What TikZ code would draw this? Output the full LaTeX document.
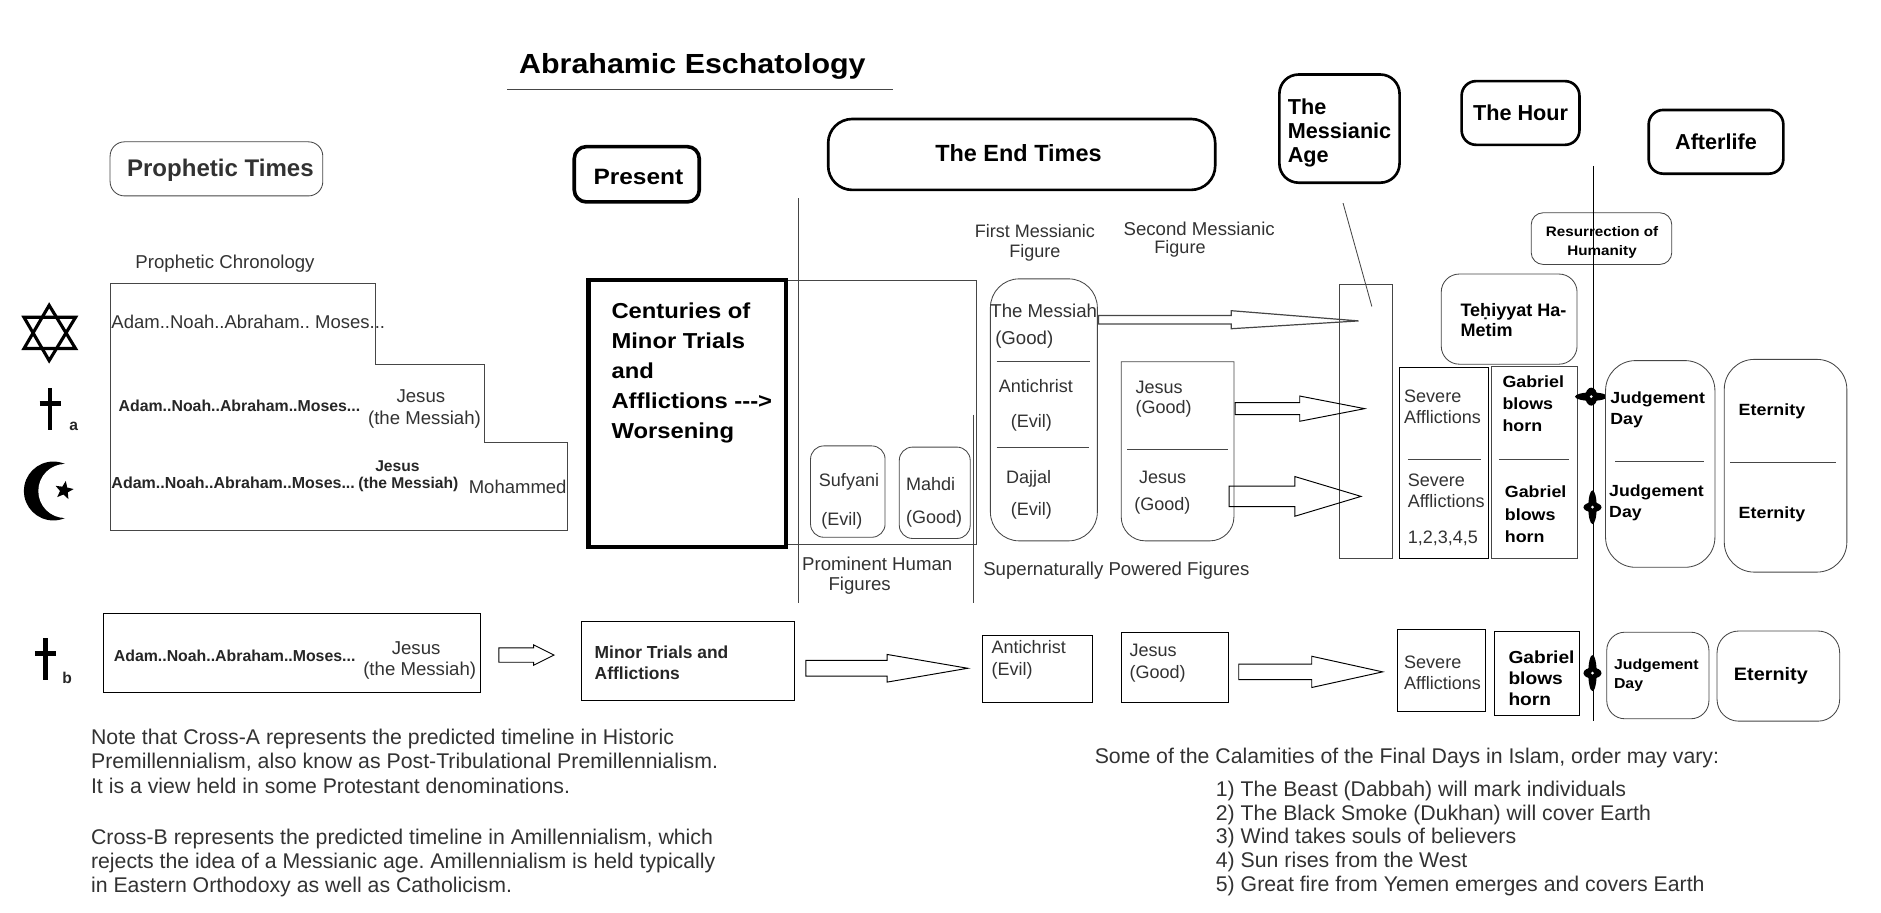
\documentclass[tikz,border=0pt]{standalone}
\usepackage{xcolor}
\usepackage{fontspec}
\setmainfont{Liberation Sans}
\newfontfamily\widefont[FakeStretch=1.1]{Liberation Sans}
\usetikzlibrary{calc,shapes.geometric}
\definecolor{inkgray}{RGB}{50,50,50}
\definecolor{rulegray}{RGB}{70,70,70}
\frenchspacing
\tikzset{
  txt/.style={inner sep=0.75pt,anchor=west,align=left,text=inkgray,font=\fontsize{#1}{#1}\selectfont},
  txtb/.style={inner sep=0.75pt,anchor=west,align=left,text=black!85,font=\fontsize{#1}{#1}\selectfont\bfseries},
  txtw/.style={inner sep=0.75pt,anchor=west,align=left,text=black,font=\fontsize{#1}{#1}\selectfont\widefont\bfseries},
  txtc/.style={txt=#1,anchor=center,align=center},
  softbox/.style={draw=rulegray,line width=0.7pt,rounded corners=#1,fill=white,inner sep=0pt},
  headbox/.style={draw,line width=2.2pt,rounded corners=#1,fill=white,inner sep=0pt},
  plainbox/.style={draw,line width=0.7pt,inner sep=0pt},
  divline/.style={rulegray,line width=0.7pt},
  blockarrow/.style n args={3}{line width=0.8pt,to path={let \p1=(\tikztostart),\p2=(\tikztotarget) in
    (\x1,\y1-#1) -- (\x2-#2,\y1-#1) -- (\x2-#2,\y1-#3) -- (\x2,\y2) -- (\x2-#2,\y1+#3) -- (\x2-#2,\y1+#1) -- (\x1,\y1+#1) -- cycle}},
  spark/.style={ellipse,fill=black,inner sep=0pt},
  sparkdot/.style={circle,fill=white,inner sep=0pt,minimum size=2.5pt}
}
\begin{document}
\begin{tikzpicture}[x=0.9977pt,y=1pt,yscale=-1,xscale=1]
\useasboundingbox (0,0) rectangle (1568.6,759.6);

% Title
\node [txtw=23] (title) at (432,55.5) {Abrahamic Eschatology};
\draw [divline] (423,74) -- (745,74);

% Period headers
\node [softbox=12pt,minimum width=177pt,minimum height=45pt] (prophetic) at (180.5,140.5) {};
\node [txtb=20,text=inkgray] (prophetictxt) at (105,142) {Prophetic Times};
\node [headbox=10pt,line width=3pt,minimum width=104pt,minimum height=46pt] (present) at (531,145) {};
\node [txtw=18.5] (presenttxt) at (494,147) {Present};
\node [headbox=20pt,minimum width=322pt,minimum height=59pt] (endtimes) at (852,128.5) {};
\node [txtb=19.5,text=black] (endtimestxt) at (779,127.5) {The End Times};
\node [headbox=16pt,minimum width=100pt,minimum height=90pt] (age) at (1117,107) {};
\node [txtb=18,text=black,font=\fontsize{18}{20}\selectfont\bfseries] (agetxt) at (1073,111) {The\\Messianic\\Age};
\node [headbox=12pt,minimum width=98pt,minimum height=53pt,font=\fontsize{18}{18}\selectfont\bfseries] (hour) at (1268,94) {The Hour};
\node [headbox=12pt,minimum width=112pt,minimum height=53pt,font=\fontsize{18}{18}\selectfont\bfseries] (afterlife) at (1431,118) {Afterlife};

% Star of David
\draw [line width=2.6pt] (41,254) -- (20,290) -- (63,290) -- cycle;
\draw [line width=2.6pt] (41,300) -- (20,264) -- (63,264) -- cycle;
% Cross a
\draw [line width=3.5pt] (42,323) -- (42,358);
\draw [line width=4pt] (33,336) -- (51,336);
\node [txtb=13] (crossa) at (57,355) {a};
% Crescent
\fill (44.5,408.5) circle (24.5pt);
\fill [white] (54.5,408.5) circle (22.5pt);
\node [star,star points=5,star point ratio=2.3,fill=black,inner sep=0pt,minimum size=16pt,rotate=-10] (crescentstar) at (53.5,408) {};
% Cross b
\draw [line width=3.5pt] (38,531) -- (38,566);
\draw [line width=4.5pt] (29,543.5) -- (47,543.5);
\node [txtb=13] (crossb) at (51,564) {b};

% Prophetic Chronology
\node [txt=15.5] (chronology) at (112,219) {Prophetic Chronology};
\draw [divline] (92,236) -- (313,236) -- (313,303) -- (404,303) -- (404,368) -- (473,368) -- (473,441) -- (92,441) -- cycle;
\node [txt=15.4] (rowjudaism) at (92,268) {Adam..Noah..Abraham.. Moses...};
\node [txtb=13.2] (rowcrossa) at (98,338) {Adam..Noah..Abraham..Moses...};
\node [txtc=15.5] (jesusa) at (351,330) {Jesus};
\node [txtc=15.5] (messiaha) at (354,349) {(the Messiah)};
\node [txtb=13.3] (rowislam) at (92,402) {Adam..Noah..Abraham..Moses...};
\node [txtb=13] (jesusi) at (312,388) {Jesus};
\node [txtb=13] (messiahi) at (298,403) {(the Messiah)};
\node [txt=15.4] (mohammed) at (390,405) {Mohammed};

% Present column
\node [draw,line width=3.5pt,minimum width=164pt,minimum height=222pt,inner sep=0pt] (centuries) at (573,344) {};
\node [txtw=18,font=\fontsize{18}{25}\selectfont\widefont\bfseries] (centuriestxt) at (509,310) {Centuries of\\Minor Trials\\and\\Afflictions ---{>}\\Worsening};

% End Times, human figures
\draw [divline] (657,233) -- (814,233) -- (814,453) -- (657,453);
\draw [divline] (666,165) -- (666,502);
\draw [divline] (812,345) -- (812,502);
\node [softbox=11pt,minimum width=62pt,minimum height=76pt] (sufyanibox) at (707,409) {};
\node [softbox=11pt,minimum width=59pt,minimum height=76pt] (mahdibox) at (779.5,410) {};
\node [txtc=15] (sufyani) at (708,401) {Sufyani};
\node [txtc=15] (sufyanievil) at (702,433) {(Evil)};
\node [txtc=15] (mahdi) at (776,403) {Mahdi};
\node [txtc=15] (mahdigood) at (779,432) {(Good)};
\node [txt=15.5] (prominent) at (668,469.5) {Prominent Human};
\node [txt=15.5] (prominentb) at (690,487) {Figures};

% End Times, supernatural figures
\node [txtc=15] (firstfig) at (863,192) {First Messianic};
\node [txtc=15] (firstfigb) at (863,210) {Figure};
\node [txtc=15.5] (secondfig) at (1000,190) {Second Messianic};
\node [txtc=15] (secondfigb) at (984,207) {Figure};
\node [softbox=24pt,minimum width=89pt,minimum height=218pt] (firstbox) at (870.5,341) {};
\node [txt=15.5] (messiahgood) at (825,259) {The Messiah};
\node [txt=15.5] (messiahgoodb) at (829,283) {(Good)};
\draw [divline] (831,301) -- (909,301);
\node [txt=15] (antichrist) at (832,321) {Antichrist};
\node [txt=15] (antichristb) at (842,352) {(Evil)};
\draw [divline] (831,372) -- (908,372);
\node [txt=15] (dajjal) at (838,398) {Dajjal};
\node [txt=15] (dajjalb) at (842,425) {(Evil)};
\draw [rulegray,line width=0.7pt] (935,301) -- (1029,301) [rounded corners=20pt] -- (1029,450) -- (935,450) [sharp corners] -- cycle;
\node [txt=15] (jesusone) at (946,322) {Jesus};
\node [txt=15] (jesusoneb) at (946,340) {(Good)};
\draw [divline] (940,374) -- (1024,374);
\node [txt=15] (jesustwo) at (949,397) {Jesus};
\node [txt=15] (jesustwob) at (945,421) {(Good)};
\node [txt=15.5] (supernatural) at (819,475) {Supernaturally Powered Figures};

% Messianic Age column
\draw [divline] (1120,169) -- (1144,255);
\node [plainbox,draw=rulegray,minimum width=44pt,minimum height=228pt] (agecolumn) at (1139,351) {};

% Arrows to the column
\coordinate (messiahout) at (916,266);
\coordinate (messiahin) at (1133,267);
\draw [blockarrow={3.5pt}{106pt}{7.5pt},draw=rulegray,line width=1pt] (messiahout) to (messiahin);
\coordinate (jesusoneout) at (1030,340);
\coordinate (jesusonein) at (1138,340);
\draw [blockarrow={5pt}{54pt}{10.5pt}] (jesusoneout) to (jesusonein);
\coordinate (jesustwoout) at (1025,413);
\coordinate (jesustwoin) at (1135,413);
\draw [blockarrow={8.5pt}{55pt}{16.5pt}] (jesustwoout) to (jesustwoin);

% Severe Afflictions and horn
\node [plainbox,minimum width=74pt,minimum height=159pt] (severebox) at (1204,385.5) {};
\node [txt=15] (severea) at (1170,330) {Severe};
\node [txt=15] (afflicta) at (1170,347) {Afflictions};
\draw [divline] (1174,382) -- (1235,382);
\node [txt=15] (severeb) at (1173,400) {Severe};
\node [txt=15] (afflictb) at (1173,417) {Afflictions};
\node [txt=15] (numbers) at (1173,448) {1,2,3,4,5};
\node [plainbox,draw=rulegray,minimum width=71pt,minimum height=160pt] (gabrielbox) at (1279.5,385) {};
\node [txtw=13.5,font=\fontsize{13.5}{18.5}\selectfont\widefont\bfseries] (gabriela) at (1252,336) {Gabriel\\blows\\horn};
\draw [divline] (1250,382) -- (1308,382);
\node [txtw=13.5,font=\fontsize{13.5}{18.5}\selectfont\widefont\bfseries] (gabrielb) at (1254,428) {Gabriel\\blows\\horn};
\node [softbox=15pt,minimum width=113pt,minimum height=75pt] (tehiyyatbox) at (1258.5,265.5) {};
\node [txtb=15,text=black,font=\fontsize{15}{17}\selectfont\bfseries] (tehiyyat) at (1217,266.5) {Teḥiyyat Ha-\\Metim};
\node [softbox=10pt,minimum width=117pt,minimum height=43pt] (resurrectbox) at (1335.5,198.5) {};
\node [txtc=11.5,font=\fontsize{11.5}{16}\selectfont\widefont\bfseries,text=black] (resurrect) at (1336,202) {Resurrection of\\Humanity};

% The Hour line and its marks
\draw [line width=0.7pt] (1329,138) -- (1329,600);
\node [spark,minimum width=27pt,minimum height=7pt] (sparkah) at (1327,330) {};
\node [spark,minimum width=10pt,minimum height=15pt] (sparkav) at (1327,330) {};
\node [sparkdot] (dota) at (1327,330) {};
\node [spark,minimum width=7pt,minimum height=28pt] (sparkbv) at (1328,422) {};
\node [spark,minimum width=15pt,minimum height=8pt] (sparkbh) at (1328,422) {};
\node [sparkdot] (dotb) at (1328,422) {};
\node [spark,minimum width=7pt,minimum height=30pt] (sparkcv) at (1328,560) {};
\node [spark,minimum width=15pt,minimum height=9pt] (sparkch) at (1328,560) {};
\node [sparkdot] (dotc) at (1328,560) {};

% Afterlife boxes
\node [softbox=25pt,minimum width=91pt,minimum height=172pt] (judgebox) at (1384.5,386) {};
\node [txtw=13.4,font=\fontsize{13.4}{18}\selectfont\widefont\bfseries] (judgea) at (1342,341) {Judgement\\Day};
\draw [divline] (1347,384) -- (1421,384);
\node [txtw=13.4,font=\fontsize{13.4}{18}\selectfont\widefont\bfseries] (judgeb) at (1341,418.5) {Judgement\\Day};
\node [softbox=25pt,minimum width=102pt,minimum height=177pt] (eternitybox) at (1489,387.5) {};
\node [txtw=13.5] (eternitya) at (1449,342) {Eternity};
\draw [divline] (1443,385) -- (1531,385);
\node [txtw=13.5] (eternityb) at (1449,428) {Eternity};

% Bottom row
\node [plainbox,minimum width=313pt,minimum height=66pt] (rowb) at (243.5,543) {};
\node [txtb=13.2] (rowcrossb) at (94,546) {Adam..Noah..Abraham..Moses...};
\node [txtc=15.5] (jesusb) at (347,539) {Jesus};
\node [txtc=15.5] (messiahb) at (350,558) {(the Messiah)};
\coordinate (rowbout) at (416,545);
\coordinate (minorin) at (462,545);
\draw [blockarrow={6pt}{17pt}{8.5pt}] (rowbout) to (minorin);
\node [plainbox,minimum width=177pt,minimum height=66pt] (minorbox) at (573.5,550) {};
\node [txtb=14.5,font=\fontsize{14.5}{17.5}\selectfont\bfseries] (minortxt) at (495,551.5) {Minor Trials and\\Afflictions};
\coordinate (minorout) at (672,556);
\coordinate (antichristin) at (807,556);
\draw [blockarrow={6.5pt}{67pt}{11.5pt}] (minorout) to (antichristin);
\node [plainbox,minimum width=92pt,minimum height=55pt] (antichristbox) at (865,556.5) {};
\node [txt=15,font=\fontsize{15}{18}\selectfont] (antichristtxt) at (826,549) {Antichrist\\(Evil)};
\node [plainbox,minimum width=89pt,minimum height=58pt] (jesusbox) at (979.5,555) {};
\node [txt=15,font=\fontsize{15}{18}\selectfont] (jesustxt) at (941,552) {Jesus\\(Good)};
\coordinate (jesusout) at (1033,559);
\coordinate (severein) at (1153,559);
\draw [blockarrow={6.5pt}{59pt}{13pt}] (jesusout) to (severein);
\node [plainbox,minimum width=74pt,minimum height=68pt] (severec) at (1202,558) {};
\node [txt=15,font=\fontsize{15}{17.5}\selectfont] (severetxt) at (1170,559.5) {Severe\\Afflictions};
\node [plainbox,minimum width=71pt,minimum height=70pt] (gabrielc) at (1281.5,560) {};
\node [txtw=14.5,font=\fontsize{14.5}{17.5}\selectfont\widefont\bfseries] (gabrieltxt) at (1257,564.5) {Gabriel\\blows\\horn};
\node [softbox=15pt,minimum width=85pt,minimum height=72pt] (judgec) at (1382.5,562) {};
\node [txtw=12,font=\fontsize{12}{16}\selectfont\widefont\bfseries] (judgetxt) at (1345,562) {Judgement\\Day};
\node [softbox=18pt,minimum width=102pt,minimum height=75pt] (eternityc) at (1483,562.5) {};
\node [txtw=15] (eternitytxt) at (1445,562) {Eternity};

% Notes
\node [txt=17.7,anchor=north west,font=\fontsize{17.7}{20}\selectfont] (notea) at (75,606) {Note that Cross-A represents the predicted timeline in Historic\\Premillennialism, also know as Post-Tribulational Premillennialism.\\It is a view held in some Protestant denominations.};
\node [txt=17.7,anchor=north west,font=\fontsize{17.7}{20}\selectfont] (noteb) at (75,689) {Cross-B represents the predicted timeline in Amillennialism, which\\rejects the idea of a Messianic age. Amillennialism is held typically\\in Eastern Orthodoxy as well as Catholicism.};
\node [txt=17.7] (calamities) at (912,630.5) {Some of the Calamities of the Final Days in Islam, order may vary:};
\node [txt=17.7,anchor=north west,font=\fontsize{17.7}{19.7}\selectfont] (calamitylist) at (1013,649) {1) The Beast (Dabbah) will mark individuals\\2) The Black Smoke (Dukhan) will cover Earth\\3) Wind takes souls of believers\\4) Sun rises from the West\\5) Great fire from Yemen emerges and covers Earth};

\end{tikzpicture}
\end{document}
